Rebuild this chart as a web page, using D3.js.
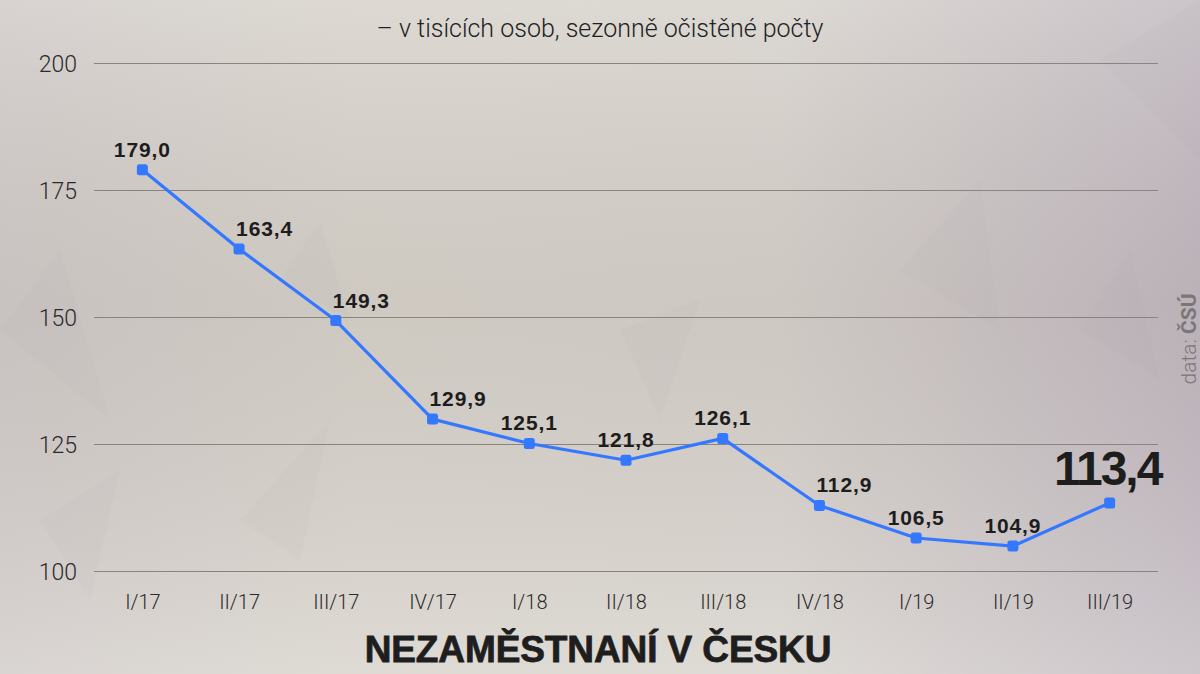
<!DOCTYPE html>
<html>
<head>
<meta charset="utf-8">
<script src="https://cdn.jsdelivr.net/npm/d3@7"></script>
<style>
  html, body { margin: 0; padding: 0; background: #d6d2cc; }
  svg { display: block; }
</style>
</head>
<body>
<svg id="svg"></svg>
<script>
// data - nezaměstnaní, tis. osob, sezonně očištěno
let quarters = ["I/17", "II/17", "III/17", "IV/17", "I/18", "II/18", "III/18", "IV/18", "I/19", "II/19", "III/19"];
let values = [179.0, 163.4, 149.3, 129.9, 125.1, 121.8, 126.1, 112.9, 106.5, 104.9, 113.4];
let yTicks = [100, 125, 150, 175, 200];
let titleText = "NEZAMĚSTNANÍ V ČESKU";
let subtitleText = "– v tisících osob, sezonně očistěné počty";

let width = 1200, height = 674;
let margin = { top: 63, right: 42, bottom: 103, left: 94 };

let svg = d3.select("#svg").attr("width", width).attr("height", height);

// pozadí
let defs = svg.append("defs");
let bgH = defs.append("linearGradient").attr("id", "bgH")
    .attr("x1", 0).attr("x2", 1).attr("y1", 0).attr("y2", 0);
bgH.append("stop").attr("offset", "0%").attr("stop-color", "#cdc7c4");
bgH.append("stop").attr("offset", "30%").attr("stop-color", "#d4cfc6");
bgH.append("stop").attr("offset", "65%").attr("stop-color", "#d3cec7");
bgH.append("stop").attr("offset", "100%").attr("stop-color", "#bdb4bb");
let bgV = defs.append("linearGradient").attr("id", "bgV")
    .attr("x1", 0).attr("x2", 0).attr("y1", 0).attr("y2", 1);
bgV.append("stop").attr("offset", "0%").attr("stop-color", "#ffffff").attr("stop-opacity", 0.22);
bgV.append("stop").attr("offset", "45%").attr("stop-color", "#a89ea2").attr("stop-opacity", 0.12);
bgV.append("stop").attr("offset", "100%").attr("stop-color", "#ffffff").attr("stop-opacity", 0.25);

svg.append("rect").attr("width", width).attr("height", height).attr("fill", "url(#bgH)");
svg.append("rect").attr("width", width).attr("height", height).attr("fill", "url(#bgV)");

// jemná polygonová textura
let shards = [
    [[0, 330], [60, 250], [110, 420]], [[240, 520], [330, 420], [300, 560]],
    [[280, 280], [320, 220], [350, 320]], [[620, 330], [700, 300], [660, 420]],
    [[900, 270], [980, 180], [1000, 330]], [[1080, 330], [1130, 250], [1160, 380]],
    [[1100, 60], [1200, 0], [1200, 160]], [[40, 520], [120, 470], [90, 600]]
];
svg.append("g").selectAll("polygon")
    .data(shards)
    .join("polygon")
    .attr("points", d => d.map(p => p.join(",")).join(" "))
    .attr("fill", "#9a8f95")
    .attr("opacity", 0.035);

let xScale = d3.scalePoint().domain(quarters)
    .range([margin.left, width - margin.right]).padding(0.5);
let yScale = d3.scaleLinear().domain([100, 200])
    .range([height - margin.bottom, margin.top]);

let cz = d3.formatLocale({ decimal: ",", thousands: " ", grouping: [3], currency: ["", " Kč"] });
let fmt = cz.format(".1f");

// osa y + mřížka
let yAxis = svg.append("g")
    .attr("transform", `translate(${margin.left},0)`)
    .call(d3.axisLeft(yScale).tickValues(yTicks)
        .tickSize(-(width - margin.left - margin.right)).tickPadding(17));
yAxis.select(".domain").remove();
yAxis.selectAll(".tick line").attr("stroke", "#8a847f").attr("stroke-width", 1.2);
yAxis.selectAll(".tick text")
    .attr("font-family", "Roboto, 'Liberation Sans', sans-serif")
    .attr("font-weight", 300)
    .attr("font-size", 23)
    .attr("fill", "#2a2a2a")
    .attr("dy", "0.36em");

// osa x
let xAxis = svg.append("g")
    .attr("transform", `translate(0,${height - margin.bottom})`)
    .call(d3.axisBottom(xScale).tickSize(0).tickPadding(24));
xAxis.select(".domain").remove();
xAxis.selectAll(".tick text")
    .attr("font-family", "Roboto, 'Liberation Sans', sans-serif")
    .attr("font-weight", 300)
    .attr("font-size", 20)
    .attr("fill", "#2a2a2a");

// linie
let pts = quarters.map((q, i) => ({ q: q, v: values[i], i: i }));
let line = d3.line().x(d => xScale(d.q)).y(d => yScale(d.v));

svg.append("path")
    .datum(pts)
    .attr("d", line)
    .attr("fill", "none")
    .attr("stroke", "#3478ff")
    .attr("stroke-width", 3.2)
    .attr("stroke-linejoin", "round");

svg.append("g").selectAll("rect")
    .data(pts)
    .join("rect")
    .attr("x", d => xScale(d.q) - 5.5)
    .attr("y", d => yScale(d.v) - 5.5)
    .attr("width", 11)
    .attr("height", 11)
    .attr("rx", 2.5)
    .attr("fill", "#3478ff");

// popisky hodnot
let last = pts.length - 1;
let steep = d => d.i > 0 && values[d.i - 1] - d.v > 10;
svg.append("g").selectAll("text")
    .data(pts)
    .join("text")
    .attr("x", d => xScale(d.q))
    .attr("y", d => yScale(d.v))
    .attr("dx", d => d.i === last ? -2 : (steep(d) ? -3 : 0))
    .attr("dy", d => d.i === last ? -18 : -13)
    .attr("text-anchor", d => d.i !== last && steep(d) ? "start" : "middle")
    .attr("font-family", "'Liberation Sans', Arial, sans-serif")
    .attr("font-weight", "bold")
    .attr("font-size", d => d.i === last ? 48 : 21)
    .attr("letter-spacing", d => d.i === last ? -2 : 0.9)
    .attr("fill", "#1d1d1d")
    .text(d => fmt(d.v));

// podtitulek
svg.append("text")
    .attr("x", width / 2)
    .attr("y", 37)
    .attr("text-anchor", "middle")
    .attr("font-family", "Roboto, 'Liberation Sans', sans-serif")
    .attr("font-weight", 300)
    .attr("font-size", 25)
    .attr("fill", "#222")
    .text(subtitleText);

// titulek
svg.append("text")
    .attr("x", 598)
    .attr("y", 662)
    .attr("text-anchor", "middle")
    .attr("font-family", "'Liberation Sans', Arial, sans-serif")
    .attr("font-weight", "bold")
    .attr("font-size", 37)
    .attr("fill", "#1e1e1e")
    .attr("stroke", "#1e1e1e")
    .attr("stroke-width", 0.8)
    .attr("letter-spacing", -0.1)
    .text(titleText);

// zdroj
let src = svg.append("text")
    .attr("transform", "translate(1196,339) rotate(-90)")
    .attr("text-anchor", "middle")
    .attr("font-family", "Roboto, 'Liberation Sans', sans-serif")
    .attr("font-size", 21)
    .attr("fill", "#7c7679");
src.append("tspan").attr("font-weight", 300).text("data: ");
src.append("tspan").attr("font-weight", "bold").text("ČSÚ");
</script>
</body>
</html>
